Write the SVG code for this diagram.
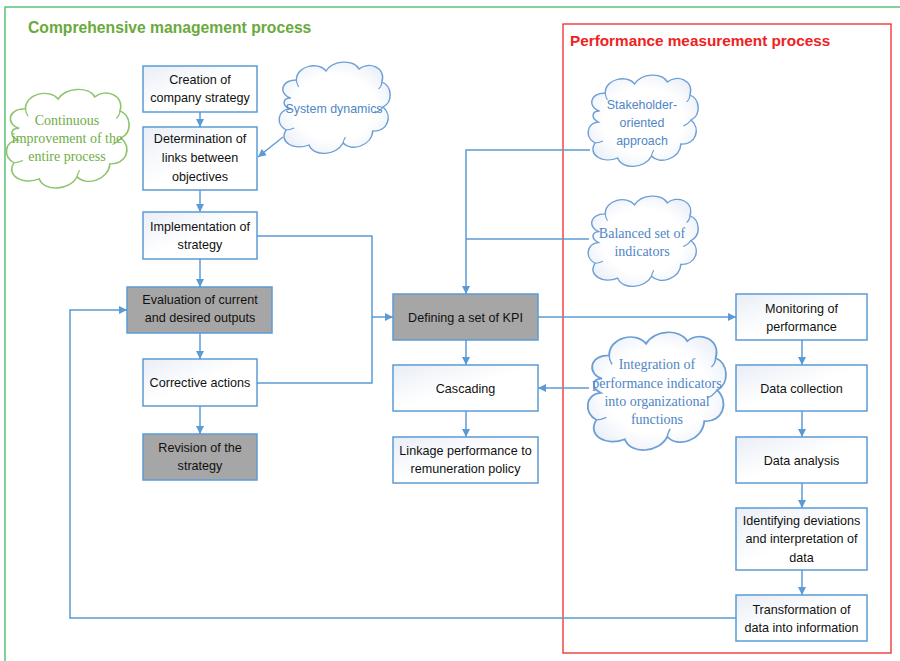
<svg xmlns="http://www.w3.org/2000/svg" xmlns:xlink="http://www.w3.org/1999/xlink" width="900" height="661" viewBox="0 0 900 661">
<style>
.box{stroke:#5b9bd5;stroke-width:1.5;fill:url(#bg)}
.gray{stroke:#5b9bd5;stroke-width:1.5;fill:#a6a6a6}
.t{font-family:"Liberation Sans",Arial,sans-serif;font-size:12.6px;fill:#111;text-anchor:middle}
.cs{font-family:"Liberation Sans",Arial,sans-serif;font-size:12.4px;fill:#4f86c6;text-anchor:middle}
.cr{font-family:"Liberation Serif","Times New Roman",serif;font-size:14px;fill:#4f86c6;text-anchor:middle}
.cg{font-family:"Liberation Serif","Times New Roman",serif;font-size:14px;fill:#70ad47;text-anchor:middle}
.cloud{fill:url(#cf);stroke:#6d9fd6;stroke-width:1.3;vector-effect:non-scaling-stroke}
.cloudg{fill:#fff;stroke:#8dc46c;stroke-width:1.3;vector-effect:non-scaling-stroke}
.inner{fill:none;stroke:#6d9fd6;stroke-width:1;vector-effect:non-scaling-stroke}
.innerg{fill:none;stroke:#8dc46c;stroke-width:1;vector-effect:non-scaling-stroke}
.c{fill:none;stroke:#5b9bd5;stroke-width:1.5}
</style>
<defs>
<linearGradient id="bg" x1="0" y1="0" x2="1" y2="1">
<stop offset="0" stop-color="#e9eef6"/>
<stop offset="0.5" stop-color="#ffffff"/>
<stop offset="1" stop-color="#ffffff"/>
</linearGradient>
<radialGradient id="cf" cx="0.5" cy="0.5" r="0.6">
<stop offset="0" stop-color="#ffffff"/>
<stop offset="0.6" stop-color="#ffffff"/>
<stop offset="1" stop-color="#e8eef7"/>
</radialGradient>
<path id="cloudp" d="M12,40 C2,37 2,22 17,22 C17,8 36,3 43,13 C49,2 67,1 72,11 C80,3 96,9 92,24 C101,28 102,44 93,49 C102,58 97,74 84,73 C83,88 65,94 58,85 C52,98 32,99 28,87 C15,93 1,84 8,72 C-1,67 0,52 11,51 C4,47 5,40 12,40 Z"/>
<path id="innerp" d="M17,22 C17,25 18,27 19,29 M92,24 C92,27 91,29 89,31 M93,49 C91,52 89,54 86,55 M58,85 C58,83 59,81 60,79 M8,72 C11,72 13,71 15,70"/>
<marker id="ah" viewBox="0 0 10 10" refX="10" refY="5" markerWidth="9" markerHeight="8" markerUnits="userSpaceOnUse" orient="auto">
<path d="M0,0 L10,5 L0,10 Z" fill="#5b9bd5"/>
</marker>
</defs>

<rect width="900" height="661" fill="#ffffff"/>

<g id="frame-comprehensive">
<rect x="5" y="7" width="900" height="670" fill="none" stroke="#3cba62" stroke-width="1.3"/>
<text x="28" y="33" font-family="'Liberation Sans',Arial,sans-serif" font-size="15.7" font-weight="bold" fill="#6aaa3c">Comprehensive management process</text>
</g>

<g id="frame-performance">
<rect x="563" y="24" width="328" height="629" fill="none" stroke="#f02828" stroke-width="1.3"/>
<text x="570" y="46" font-family="'Liberation Sans',Arial,sans-serif" font-size="15.3" font-weight="bold" fill="#ee2222">Performance measurement process</text>
</g>

<g id="connectors">
<line class="c" x1="200" y1="112" x2="200" y2="127" marker-end="url(#ah)"/>
<line class="c" x1="200" y1="190" x2="200" y2="212" marker-end="url(#ah)"/>
<line class="c" x1="200" y1="259" x2="200" y2="287" marker-end="url(#ah)"/>
<line class="c" x1="200" y1="333" x2="200" y2="359" marker-end="url(#ah)"/>
<line class="c" x1="200" y1="406" x2="200" y2="434" marker-end="url(#ah)"/>
<line class="c" x1="283" y1="137" x2="258" y2="157" marker-end="url(#ah)"/>
<path class="c" d="M257,236 H372 V317 H393" marker-end="url(#ah)"/>
<path class="c" d="M257,383 H372 V317"/>
<path class="c" d="M590,150 H466 V294" marker-end="url(#ah)"/>
<path class="c" d="M589,239 H466"/>
<line class="c" x1="538" y1="317" x2="736" y2="317" marker-end="url(#ah)"/>
<line class="c" x1="589" y1="388" x2="538" y2="388" marker-end="url(#ah)"/>
<line class="c" x1="466" y1="340" x2="466" y2="365" marker-end="url(#ah)"/>
<line class="c" x1="466" y1="411" x2="466" y2="437" marker-end="url(#ah)"/>
<line class="c" x1="802" y1="340" x2="802" y2="365" marker-end="url(#ah)"/>
<line class="c" x1="802" y1="411" x2="802" y2="437" marker-end="url(#ah)"/>
<line class="c" x1="802" y1="483" x2="802" y2="508" marker-end="url(#ah)"/>
<line class="c" x1="802" y1="570" x2="802" y2="595" marker-end="url(#ah)"/>
<path class="c" d="M736,618 H70 V310 H127" marker-end="url(#ah)"/>
</g>

<g id="cloud-continuous">
<g transform="translate(4,85) scale(1.26,1.08)">
<use xlink:href="#cloudp" class="cloudg"/>
<use xlink:href="#innerp" class="innerg"/>
</g>
<text class="cg" x="67" y="125">Continuous</text>
<text class="cg" x="67" y="143">improvement of the</text>
<text class="cg" x="67" y="161">entire process</text>
</g>

<g id="cloud-system-dynamics">
<g transform="translate(277,58) scale(1.14,1.0)">
<use xlink:href="#cloudp" class="cloud"/>
<use xlink:href="#innerp" class="inner"/>
</g>
<text class="cs" x="334" y="113">System dynamics</text>
</g>

<g id="cloud-stakeholder">
<g transform="translate(586,71) scale(1.13,1.0)">
<use xlink:href="#cloudp" class="cloud"/>
<use xlink:href="#innerp" class="inner"/>
</g>
<text class="cs" x="642" y="109">Stakeholder-</text>
<text class="cs" x="642" y="127">oriented</text>
<text class="cs" x="642" y="145">approach</text>
</g>

<g id="cloud-balanced">
<g transform="translate(586,192) scale(1.13,0.99)">
<use xlink:href="#cloudp" class="cloud"/>
<use xlink:href="#innerp" class="inner"/>
</g>
<text class="cr" x="642" y="238">Balanced set of</text>
<text class="cr" x="642" y="256">indicators</text>
</g>

<g id="cloud-integration">
<g transform="translate(585,327) scale(1.42,1.29)">
<use xlink:href="#cloudp" class="cloud"/>
<use xlink:href="#innerp" class="inner"/>
</g>
<text class="cr" x="657" y="369">Integration of</text>
<text class="cr" x="657" y="388">performance indicators</text>
<text class="cr" x="657" y="406">into organizational</text>
<text class="cr" x="657" y="424">functions</text>
</g>

<g id="node-creation">
<rect class="box" x="143" y="66" width="114" height="46"/>
<text class="t" x="200" y="84">Creation of</text>
<text class="t" x="200" y="102">company strategy</text>
</g>
<g id="node-determination">
<rect class="box" x="143" y="127" width="114" height="63"/>
<text class="t" x="200" y="143">Determination of</text>
<text class="t" x="200" y="162">links between</text>
<text class="t" x="200" y="181">objectives</text>
</g>
<g id="node-implementation">
<rect class="box" x="143" y="212" width="114" height="47"/>
<text class="t" x="200" y="231">Implementation of</text>
<text class="t" x="200" y="249">strategy</text>
</g>
<g id="node-evaluation">
<rect class="gray" x="127" y="287" width="145" height="46"/>
<text class="t" x="200" y="304">Evaluation of current</text>
<text class="t" x="200" y="322">and desired outputs</text>
</g>
<g id="node-corrective">
<rect class="box" x="143" y="359" width="114" height="47"/>
<text class="t" x="200" y="387">Corrective actions</text>
</g>
<g id="node-revision">
<rect class="gray" x="143" y="434" width="114" height="46"/>
<text class="t" x="200" y="452">Revision of the</text>
<text class="t" x="200" y="470">strategy</text>
</g>

<g id="node-kpi">
<rect class="gray" x="393" y="294" width="145" height="46"/>
<text class="t" x="465.5" y="321.5">Defining a set of KPI</text>
</g>
<g id="node-cascading">
<rect class="box" x="393" y="365" width="145" height="46"/>
<text class="t" x="465.5" y="392.5">Cascading</text>
</g>
<g id="node-linkage">
<rect class="box" x="393" y="437" width="145" height="46"/>
<text class="t" x="465.5" y="455">Linkage performance to</text>
<text class="t" x="465.5" y="473">remuneration policy</text>
</g>

<g id="node-monitoring">
<rect class="box" x="736" y="294" width="131" height="46"/>
<text class="t" x="801.5" y="313">Monitoring of</text>
<text class="t" x="801.5" y="331">performance</text>
</g>
<g id="node-collection">
<rect class="box" x="736" y="365" width="131" height="46"/>
<text class="t" x="801.5" y="392.5">Data collection</text>
</g>
<g id="node-analysis">
<rect class="box" x="736" y="437" width="131" height="46"/>
<text class="t" x="801.5" y="464.5">Data analysis</text>
</g>
<g id="node-identifying">
<rect class="box" x="736" y="508" width="131" height="62"/>
<text class="t" x="801.5" y="524.5">Identifying deviations</text>
<text class="t" x="801.5" y="543">and interpretation of</text>
<text class="t" x="801.5" y="561.5">data</text>
</g>
<g id="node-transformation">
<rect class="box" x="736" y="595" width="131" height="46"/>
<text class="t" x="801.5" y="613.5">Transformation of</text>
<text class="t" x="801.5" y="631.5">data into information</text>
</g>
</svg>
